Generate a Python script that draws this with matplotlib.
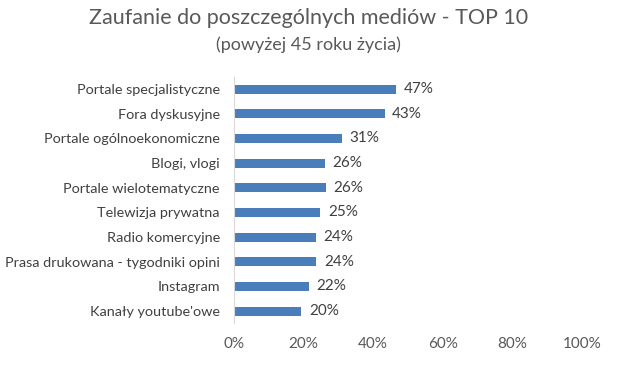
import matplotlib.pyplot as plt

# dane
kategorie = ["Portale specjalistyczne", "Fora dyskusyjne", "Portale ogólnoekonomiczne",
             "Blogi, vlogi", "Portale wielotematyczne", "Telewizja prywatna",
             "Radio komercyjne", "Prasa drukowana - tygodniki opini", "Instagram",
             "Kanały youtube'owe"]
wartosci = [46.6, 43.3, 31.1, 26.1, 26.4, 24.8, 23.5, 23.7, 21.5, 19.4]
etykiety = ["47%", "43%", "31%", "26%", "26%", "25%", "24%", "24%", "22%", "20%"]
ticki = [0, 20, 40, 60, 80, 100]

plt.rcParams['font.family'] = ['Lato', 'DejaVu Sans']

fig = plt.figure(figsize=(6.17, 3.65), dpi=100)
ax = fig.add_axes([0.379, 0.1137, 0.564, 0.676])

pozycje = list(range(len(kategorie)))
ax.barh(pozycje, wartosci, height=0.36, color="#4A7EBB")
for y, v, t in zip(pozycje, wartosci, etykiety):
    ax.text(v + 2.2, y, t, va="center", ha="left", fontsize=11, color="#404040")

ax.set_ylim(len(kategorie) - 0.5, -0.5)
ax.set_xlim(0, 100)
ax.set_yticks(pozycje)
ax.set_yticklabels(kategorie, fontsize=10.4, color="#404040")
ax.set_xticks(ticki)
ax.set_xticklabels([f"{t}%" for t in ticki], fontsize=11, color="#595959")
ax.tick_params(axis="both", length=0)
ax.tick_params(axis="y", pad=10)
ax.tick_params(axis="x", pad=10)

for s in ["top", "right", "bottom"]:
    ax.spines[s].set_visible(False)
ax.spines["left"].set_color("#D9D9D9")

fig.text(0.5, 1 - 18 / 365, "Zaufanie do poszczególnych mediów - TOP 10",
         ha="center", va="center", fontsize=15.5, color="#595959")
fig.text(0.5, 1 - 45 / 365, "(powyżej 45 roku życia)",
         ha="center", va="center", fontsize=13, color="#595959")

fig.savefig("out.png", dpi=100)
